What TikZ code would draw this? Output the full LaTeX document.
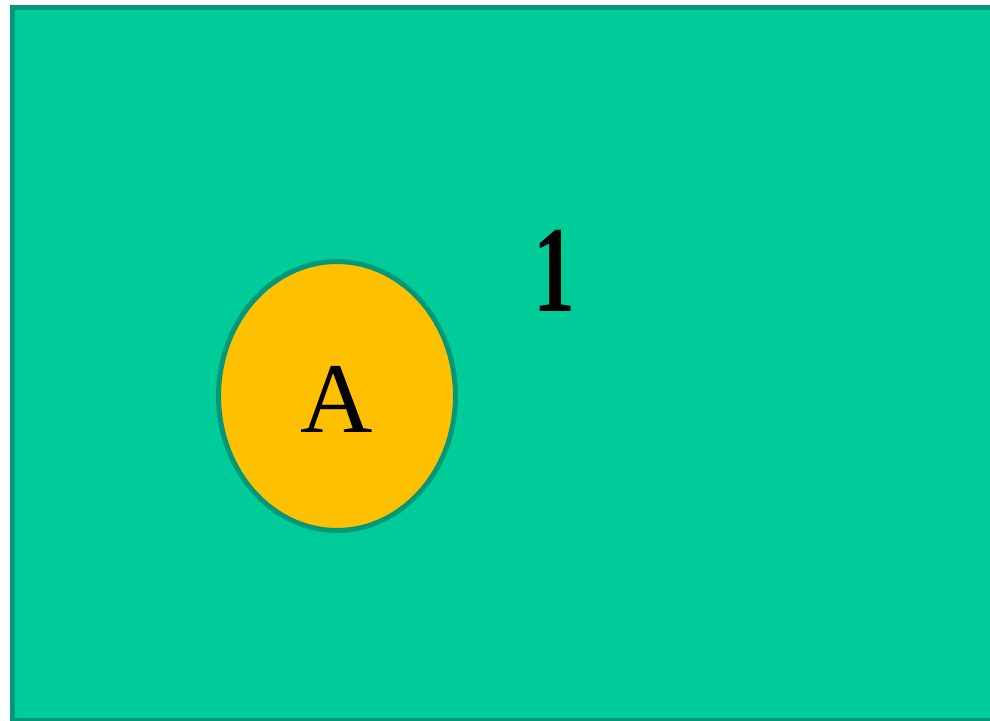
\documentclass[tikz,border=0pt]{standalone}
\usepackage{fontspec}
\setmainfont{Liberation Serif}
\usepackage{tikz}
\usetikzlibrary{shapes.geometric,positioning}

\definecolor{universe}{HTML}{00CC99}
\definecolor{rim}{HTML}{009878}
\definecolor{setfill}{HTML}{FFC000}

\begin{document}
\begin{tikzpicture}[x=0.02cm, y=-0.02cm, line width=0.1cm]
  \def\W{990} \def\H{720}
  \useasboundingbox (0,0) rectangle (\W,\H);
  \clip (0,0) rectangle (\W,\H);

  % universal set
  \draw[rim, fill=universe] (12.5,7.5) rectangle (1000,720);
  \node[font=\fontsize{70}{74}\selectfont\bfseries, inner sep=0pt, xscale=0.68] (one) at (554,271) {1};

  % set A
  \node[ellipse, draw=rim, fill=setfill, minimum width=4.74cm, minimum height=5.38cm,
        inner sep=0pt] (setA) at (337,396) {};
  \node[font=\fontsize{57}{60}\selectfont, inner sep=0pt] (labelA) at (337,399) {A};
\end{tikzpicture}
\end{document}
